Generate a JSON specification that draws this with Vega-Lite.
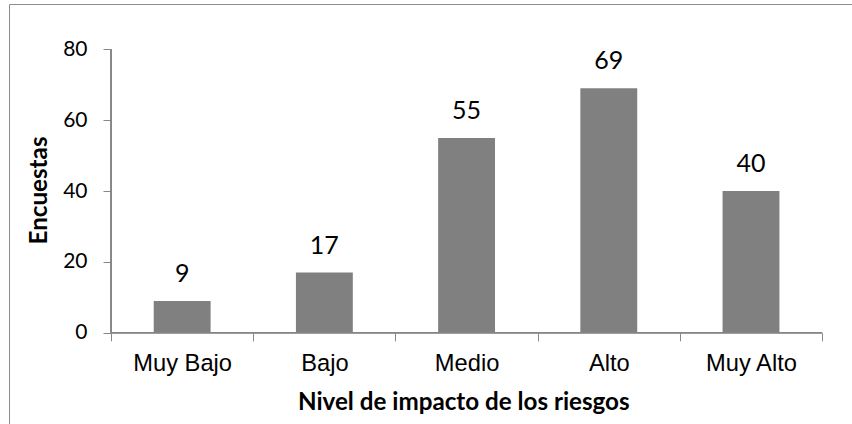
{
  "$schema": "https://vega.github.io/schema/vega-lite/v6.json",
  "autosize": {"type": "none"},
  "width": 847,
  "height": 424,
  "padding": {"left": 9, "top": 4, "right": -4, "bottom": -4},
  "background": "white",
  "config": {
    "view": {"stroke": "#8c8c8c", "strokeWidth": 1},
    "axis": {
      "grid": false,
      "domain": false,
      "tickColor": "#868686",
      "labelColor": "black",
      "titleColor": "black"
    }
  },
  "data": {
    "values": [
      {"nivel": "Muy Bajo", "encuestas": 9},
      {"nivel": "Bajo", "encuestas": 17},
      {"nivel": "Medio", "encuestas": 55},
      {"nivel": "Alto", "encuestas": 69},
      {"nivel": "Muy Alto", "encuestas": 40}
    ]
  },
  "layer": [
    {
      "mark": {"type": "bar", "color": "#808080"},
      "encoding": {
        "x": {
          "field": "nivel",
          "type": "nominal",
          "sort": null,
          "scale": {
            "domain": ["Muy Bajo", "Bajo", "Medio", "Alto", "Muy Alto"],
            "paddingInner": 0.6,
            "paddingOuter": 0.778,
            "align": 0.654
          },
          "axis": {
            "title": "Nivel de impacto de los riesgos",
            "orient": "bottom",
            "offset": -95.2,
            "bandPosition": 2.5,
            "tickExtra": true,
            "tickOffset": -42.66,
            "tickSize": 8,
            "tickWidth": 1,
            "labelOffset": 42.66,
            "labelAngle": 0,
            "labelPadding": 10.5,
            "labelFont": "Liberation Sans",
            "labelFontSize": 23.7,
            "titleFont": "Lato",
            "titleFontWeight": "bold",
            "titleFontSize": 24.2,
            "titlePadding": 15,
            "titleX": 454.3
          }
        },
        "y": {
          "field": "encuestas",
          "type": "quantitative",
          "scale": {"domain": [-26.86, 92.78], "nice": false, "zero": false},
          "axis": {
            "title": "Encuestas",
            "values": [0, 20, 40, 60, 80],
            "offset": -102,
            "tickSize": 8,
            "labelPadding": 16,
            "labelFont": "Lato",
            "labelFontSize": 21,
            "titleFont": "Lato",
            "titleFontWeight": "bold",
            "titleFontSize": 24.2,
            "titlePadding": 11,
            "titleY": 186
          }
        },
        "y2": {"datum": 0}
      }
    },
    {
      "mark": {"type": "text", "font": "Lato", "fontSize": 25, "color": "black", "baseline": "alphabetic", "dy": -19},
      "encoding": {
        "x": {"field": "nivel", "type": "nominal", "sort": null},
        "y": {"field": "encuestas", "type": "quantitative"},
        "text": {"field": "encuestas", "type": "quantitative"}
      }
    },
    {
      "mark": {"type": "rule", "color": "#868686", "strokeWidth": 1},
      "encoding": {
        "x": {"datum": "Muy Bajo", "type": "nominal", "bandPosition": -0.75},
        "y": {"datum": 0, "type": "quantitative"},
        "y2": {"datum": 80}
      }
    },
    {
      "mark": {"type": "rule", "color": "#868686", "strokeWidth": 1},
      "encoding": {
        "x": {"datum": "Muy Bajo", "type": "nominal", "bandPosition": -0.75},
        "x2": {"datum": "Muy Alto", "bandPosition": 1.75},
        "y": {"datum": 0, "type": "quantitative"}
      }
    }
  ]
}
